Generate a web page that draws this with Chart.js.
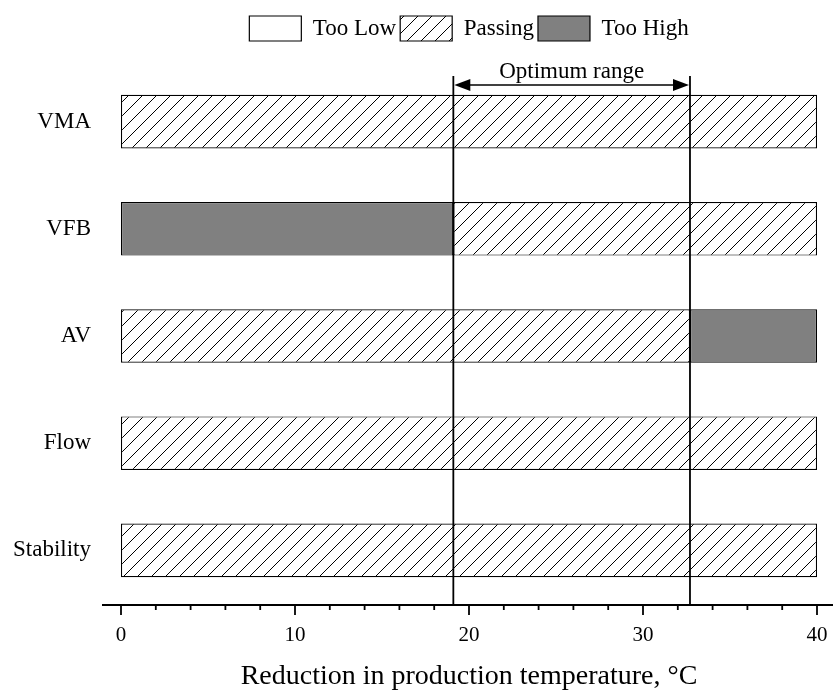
<!DOCTYPE html>
<html>
<head>
<meta charset="utf-8">
<script src="https://cdn.jsdelivr.net/npm/chart.js@4"></script>
<style>
  html, body { margin: 0; padding: 0; background: #fff; }
  #wrap { width: 833px; height: 691px; }
</style>
</head>
<body>
<div id="wrap"><canvas id="myChart" width="833" height="691"></canvas></div>
<script>
var categories = ['VMA', 'VFB', 'AV', 'Flow', 'Stability'];
// [start, end] of each segment along the temperature axis, null = no segment
var tooLow  = [null, null, null, null, null];
var passing = [[0, 40], [19.1, 40], [0, 32.7], [0, 40], [0, 40]];
var tooHigh = [null, [0, 19.1], [32.7, 40], null, null];
var optimumRange = [19.1, 32.7];
var xTicks = [0, 10, 20, 30, 40];

var serif = "'Liberation Serif', 'Times New Roman', serif";

function hatchPattern() {
  var s = 14;
  var c = document.createElement('canvas');
  c.width = s; c.height = s;
  var g = c.getContext('2d');
  g.fillStyle = '#fff';
  g.fillRect(0, 0, s, s);
  g.strokeStyle = '#000';
  g.lineWidth = 1;
  g.beginPath();
  g.moveTo(-2, s + 2); g.lineTo(s + 2, -2);
  g.moveTo(-2, 2); g.lineTo(2, -2);
  g.moveTo(s - 2, s + 2); g.lineTo(s + 2, s - 2);
  g.stroke();
  return g.createPattern(c, 'repeat');
}

// leave room under the legend for the optimum range label
var legendSpace = {
  id: 'legendSpace',
  beforeInit: function (chart) {
    var fit = chart.legend.fit;
    chart.legend.fit = function () {
      fit.call(this);
      this.height += 17;
    };
  }
};

// vertical limits, optimum arrow, extended baseline and tick marks
var overlay = {
  id: 'overlay',
  afterDatasetsDraw: function (chart) {
    var ctx = chart.ctx, x = chart.scales.x, area = chart.chartArea;
    var base = area.bottom + 1;
    ctx.save();
    ctx.strokeStyle = '#000';
    ctx.fillStyle = '#000';
    ctx.lineWidth = 1.8;

    var x1 = x.getPixelForValue(optimumRange[0]);
    var x2 = x.getPixelForValue(optimumRange[1]);
    var top = area.top + 8;
    [x1, x2].forEach(function (px) {
      ctx.beginPath();
      ctx.moveTo(px, top);
      ctx.lineTo(px, base);
      ctx.stroke();
    });

    var ay = area.top + 17;
    ctx.lineWidth = 1.5;
    ctx.beginPath();
    ctx.moveTo(x1 + 12, ay);
    ctx.lineTo(x2 - 12, ay);
    ctx.stroke();
    ctx.beginPath();
    ctx.moveTo(x1 + 1, ay); ctx.lineTo(x1 + 17, ay - 6); ctx.lineTo(x1 + 17, ay + 6); ctx.closePath();
    ctx.fill();
    ctx.beginPath();
    ctx.moveTo(x2 - 1, ay); ctx.lineTo(x2 - 17, ay - 6); ctx.lineTo(x2 - 17, ay + 6); ctx.closePath();
    ctx.fill();

    ctx.font = '23px ' + serif;
    ctx.textAlign = 'center';
    ctx.textBaseline = 'alphabetic';
    ctx.fillText('Optimum range', (x1 + x2) / 2, ay - 7);

    ctx.lineWidth = 2;
    ctx.beginPath();
    ctx.moveTo(area.left - 19, base);
    ctx.lineTo(chart.width, base);
    ctx.stroke();

    ctx.lineWidth = 1.8;
    for (var v = 0; v <= 40; v += 2) {
      var px = x.getPixelForValue(v);
      var len = v % 10 === 0 ? 10 : 5;
      ctx.beginPath();
      ctx.moveTo(px, base);
      ctx.lineTo(px, base + len);
      ctx.stroke();
    }
    ctx.restore();
  }
};

var ctx = document.getElementById('myChart').getContext('2d');
var myChart = new Chart(ctx, {
  type: 'bar',
  data: {
    labels: categories,
    datasets: [{
      label: 'Too Low',
      data: tooLow,
      backgroundColor: '#fff',
      borderColor: '#000',
      borderWidth: 1.2
    }, {
      label: 'Passing',
      data: passing,
      backgroundColor: hatchPattern(),
      borderColor: '#000',
      borderWidth: 1.2
    }, {
      label: 'Too High',
      data: tooHigh,
      backgroundColor: '#808080',
      borderColor: '#000',
      borderWidth: 1.2
    }]
  },
  options: {
    responsive: false,
    animation: false,
    indexAxis: 'y',
    layout: { padding: { left: 0, right: 16, top: 12, bottom: 0 } },
    datasets: {
      bar: {
        grouped: false,
        barPercentage: 0.5,
        categoryPercentage: 1,
        borderSkipped: false
      }
    },
    plugins: {
      legend: {
        position: 'top',
        fullSize: false,
        labels: {
          boxWidth: 52,
          boxHeight: 25,
          padding: 4,
          color: '#000',
          font: { family: serif, size: 23 }
        }
      },
      tooltip: { enabled: false }
    },
    scales: {
      x: {
        min: 0,
        max: 40,
        afterBuildTicks: function (scale) {
          scale.ticks = xTicks.map(function (v) { return { value: v }; });
        },
        afterFit: function (scale) {
          scale.height = 87;
          scale.paddingLeft = 0;
          scale.paddingRight = 0;
        },
        grid: { display: false, drawTicks: false },
        border: { display: false },
        ticks: {
          color: '#000',
          padding: 21,
          maxRotation: 0,
          font: { family: serif, size: 21, lineHeight: 1 }
        },
        title: {
          display: true,
          text: 'Reduction in production temperature, \u00B0C',
          color: '#000',
          padding: { top: 20, bottom: 0 },
          font: { family: serif, size: 28, lineHeight: 1 }
        }
      },
      y: {
        offset: true,
        afterFit: function (scale) { scale.width = 121; },
        grid: { display: false, drawTicks: false },
        border: { display: false },
        ticks: {
          color: '#000',
          padding: 30,
          font: { family: serif, size: 23 }
        }
      }
    }
  },
  plugins: [legendSpace, overlay]
});
</script>
</body>
</html>
